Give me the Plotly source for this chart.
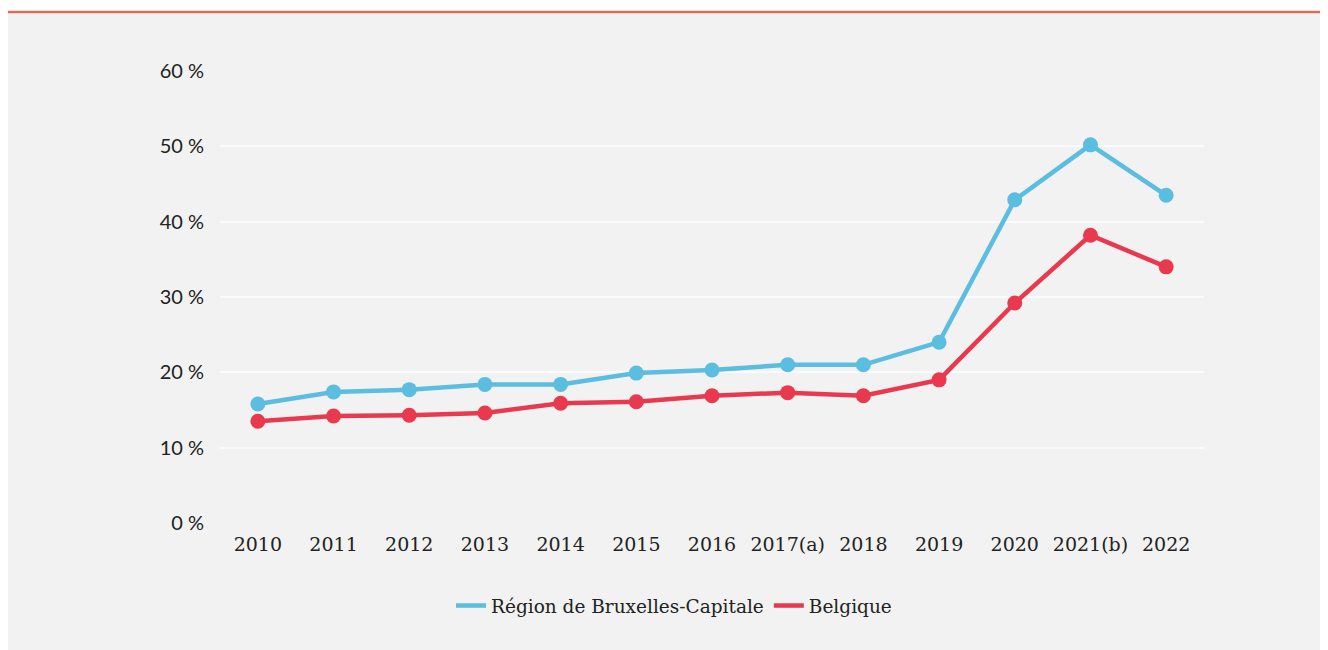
import plotly.graph_objects as go

years = ["2010", "2011", "2012", "2013", "2014", "2015", "2016", "2017(a)", "2018", "2019", "2020", "2021(b)", "2022"]
bruxelles = [15.8, 17.4, 17.7, 18.4, 18.4, 19.9, 20.3, 21.0, 21.0, 24.0, 42.9, 50.2, 43.5]
belgique = [13.5, 14.2, 14.3, 14.6, 15.9, 16.1, 16.9, 17.3, 16.9, 19.0, 29.2, 38.2, 34.0]
series_names = ["Région de Bruxelles-Capitale", "Belgique"]
y_tickvals = [0, 10, 20, 30, 40, 50, 60]
y_ticktext = ["0\u202f%", "10\u202f%", "20\u202f%", "30\u202f%", "40\u202f%", "50\u202f%", "60\u202f%"]

BLUE = "#5bbde0"
RED = "#e8394f"
BG = "#f1f2f1"

W, H = 1328, 650
ML, MR, MT, MB = 212, 132, 63, 135
PW, PH = W - ML - MR, H - MT - MB

def px_x(p):
    return (p - ML) / PW

def px_y(p):
    return (H - MB - p) / PH

fig = go.Figure()
for name, vals, col in [(series_names[0], bruxelles, BLUE), (series_names[1], belgique, RED)]:
    fig.add_trace(go.Scatter(
        x=years, y=vals, mode="lines+markers", name=name, showlegend=False,
        line=dict(color=col, width=4.5), marker=dict(color=col, size=15),
        hoverinfo="skip"))
for name, col in [(series_names[0], BLUE), (series_names[1], RED)]:
    fig.add_trace(go.Scatter(
        x=[None], y=[None], mode="lines", name=name, showlegend=True,
        line=dict(color=col, width=4.5)))

shapes = [
    # white strip at top
    dict(type="rect", xref="paper", yref="paper", x0=px_x(0), x1=px_x(W), y0=px_y(0), y1=px_y(3.5),
         fillcolor="white", line=dict(width=0), layer="above"),
    # red top rule
    dict(type="line", xref="paper", yref="paper", x0=px_x(0), x1=px_x(W), y0=px_y(4), y1=px_y(4),
         line=dict(color="#d96e58", width=2.5), layer="above"),
]

fig.update_layout(
    width=W, height=H,
    margin=dict(l=ML, r=MR, t=MT, b=MB, pad=0),
    paper_bgcolor=BG, plot_bgcolor=BG,
    shapes=shapes,
    showlegend=True,
    legend=dict(orientation="h", x=px_x(666), y=px_y(598), xanchor="center", yanchor="middle",
                font=dict(family="DejaVu Serif", size=18.5, color="#222222"),
                bgcolor="rgba(0,0,0,0)", itemwidth=30, tracegroupgap=0),
    xaxis=dict(type="category", categoryorder="array", categoryarray=years,
               range=[-0.5, len(years) - 0.5], showgrid=False, zeroline=False, showline=False,
               ticks="", tickfont=dict(family="DejaVu Serif", size=19, color="#222222"),
               ticklabelstandoff=8, fixedrange=True),
    yaxis=dict(range=[0, 60], tickvals=y_tickvals, ticktext=y_ticktext,
               showgrid=True, gridcolor="#fbfbfb", gridwidth=2, zeroline=False, showline=False,
               ticks="", tickfont=dict(family="Lato", size=20, color="#222222"),
               ticklabelstandoff=15, fixedrange=True),
)

fig.write_html("out.html")
